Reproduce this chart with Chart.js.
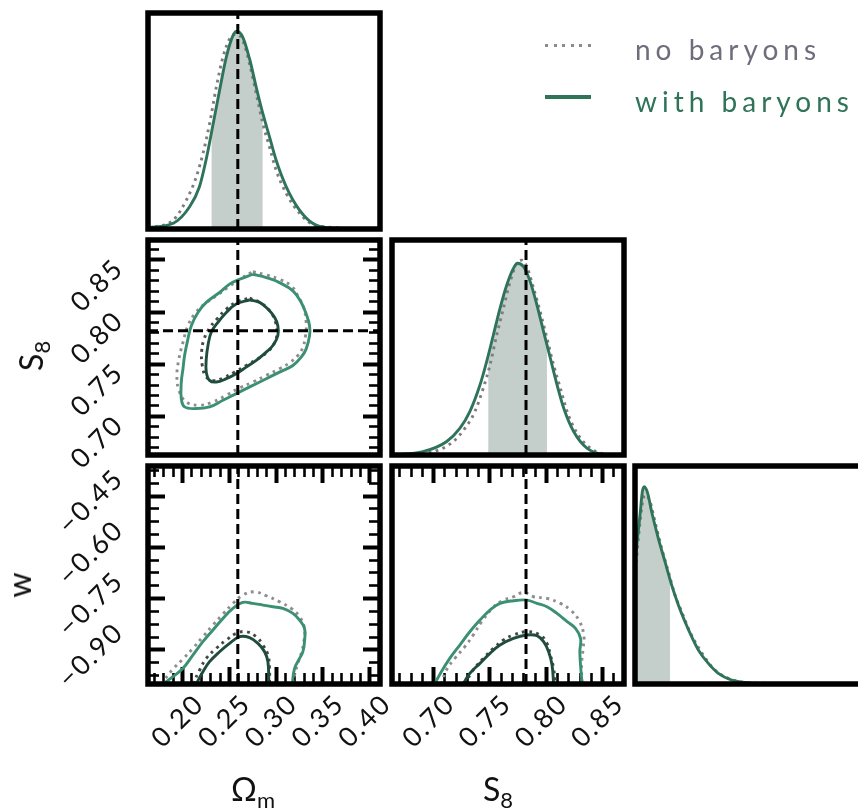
<!DOCTYPE html>
<html>
<head>
<meta charset="utf-8">
<title>Posterior corner plot: no baryons vs with baryons</title>
<script src="https://cdn.jsdelivr.net/npm/chart.js@4.4.1/dist/chart.umd.min.js"></script>
<style>
  html, body { margin: 0; padding: 0; background: #fff; overflow: hidden; }
  body { position: relative; width: 858px; height: 809px; font-family: Lato, "DejaVu Sans", sans-serif; font-weight: 400; }
  canvas { position: absolute; left: 0; top: 0; }
  .t { position: absolute; font-size: 32px; color: #111; line-height: 1; white-space: nowrap; transform: translate(-50%, -50%); }
  .t.rot { transform: translate(-50%, -50%) rotate(-90deg); }
  .t sub { font-size: 22px; vertical-align: -7px; line-height: 0; }
  .leg { position: absolute; font-size: 28px; letter-spacing: 5px; line-height: 1; white-space: nowrap; }
  .sw { position: absolute; }
</style>
</head>
<body>
<canvas id="pOm" width="880" height="809"></canvas>
<canvas id="pOmS8" width="880" height="809"></canvas>
<canvas id="pS8" width="880" height="809"></canvas>
<canvas id="pOmW" width="880" height="809"></canvas>
<canvas id="pS8W" width="880" height="809"></canvas>
<canvas id="pW" width="880" height="809"></canvas>

<div class="t rot" style="left:31px;top:356px">S<sub>8</sub></div>
<div class="t rot" style="left:19px;top:585px">w</div>
<div class="t" style="left:253px;top:789px">Ω<sub>m</sub></div>
<div class="t" style="left:498px;top:789px">S<sub>8</sub></div>

<div class="sw" style="left:545px;top:44px;width:46px;height:3px;background:repeating-linear-gradient(to right,#8a8a90 0 3px,transparent 3px 8.6px)"></div>
<div class="leg" style="left:635px;top:35px;color:#6f6c7b">no baryons</div>
<div class="sw" style="left:545px;top:95px;width:46px;height:4px;background:#2f7459"></div>
<div class="leg" style="left:635px;top:87px;color:#2f7459">with baryons</div>

<script>
// ---- parameter ranges, truth values and tick labels ----
const omRange = [0.163, 0.411];
const s8Range = [0.663, 0.869];
const wRange = [-1.0, -0.362];
const pdfRange = [0, 1.1];
const truthOm = 0.259;
const truthS8 = 0.782;
const omTicks = [0.20, 0.25, 0.30, 0.35, 0.40];
const s8Ticks = [0.70, 0.75, 0.80, 0.85];
const wTicks = [-0.90, -0.75, -0.60, -0.45];
const omMinorStep = 0.01, s8MinorStep = 0.01, wMinorStep = 0.0375;

// ---- 1D marginals (peak-normalised density) ----
const omWithX = [0.163, 0.190, 0.2075, 0.218, 0.225, 0.232, 0.2395, 0.2467, 0.2538, 0.258, 0.2644, 0.2716, 0.2787, 0.2858, 0.2929, 0.300, 0.3108, 0.325, 0.339, 0.3535, 0.410];
const omWithY = [0.007, 0.029, 0.113, 0.215, 0.350, 0.519, 0.706, 0.875, 0.985, 1.007, 0.976, 0.866, 0.722, 0.587, 0.469, 0.350, 0.215, 0.096, 0.029, 0.007, 0.0];
const omNoX = [0.163, 0.190, 0.204, 0.2146, 0.2217, 0.2288, 0.236, 0.2431, 0.2502, 0.2574, 0.2644, 0.2716, 0.2787, 0.2858, 0.2929, 0.300, 0.3108, 0.325, 0.3428, 0.410];
const omNoY = [0.005, 0.046, 0.147, 0.265, 0.384, 0.536, 0.722, 0.875, 0.968, 0.993, 0.959, 0.841, 0.689, 0.536, 0.418, 0.299, 0.181, 0.080, 0.017, 0.0];
const omBand = [0.231, 0.2855];

const s8WithX = [0.6637, 0.6904, 0.7113, 0.7232, 0.7321, 0.7411, 0.747, 0.753, 0.7589, 0.7649, 0.7708, 0.7744, 0.7798, 0.7857, 0.7917, 0.7976, 0.8036, 0.8096, 0.8155, 0.8244, 0.8363, 0.8512, 0.869];
const s8WithY = [0.0, 0.017, 0.068, 0.136, 0.222, 0.358, 0.477, 0.614, 0.750, 0.870, 0.955, 0.981, 0.963, 0.887, 0.767, 0.631, 0.495, 0.358, 0.239, 0.119, 0.034, 0.003, 0.0];
const s8NoX = [0.6637, 0.6994, 0.7172, 0.7277, 0.7366, 0.744, 0.750, 0.756, 0.7619, 0.7679, 0.7738, 0.7783, 0.7827, 0.7887, 0.7946, 0.8006, 0.8065, 0.8125, 0.8185, 0.8274, 0.8393, 0.8542, 0.869];
const s8NoY = [0.0, 0.017, 0.068, 0.136, 0.222, 0.341, 0.460, 0.614, 0.750, 0.887, 0.981, 0.997, 0.963, 0.853, 0.733, 0.597, 0.460, 0.341, 0.222, 0.111, 0.034, 0.003, 0.0];
const s8Band = [0.7485, 0.8006];

const wWithX = [-1.0, -0.9862, -0.9798, -0.9743, -0.9651, -0.9542, -0.9359, -0.9175, -0.8992, -0.8808, -0.8625, -0.8442, -0.8258, -0.7983, -0.7708, -0.7342, -0.6975, -0.6608, -0.362];
const wWithY = [0.62, 0.853, 0.970, 0.995, 0.962, 0.869, 0.735, 0.617, 0.499, 0.399, 0.314, 0.239, 0.172, 0.104, 0.054, 0.020, 0.008, 0.003, 0.0];
const wNoX = [-1.0, -0.9862, -0.9771, -0.9707, -0.9587, -0.945, -0.9267, -0.9083, -0.89, -0.8717, -0.8533, -0.835, -0.8121, -0.7892, -0.7617, -0.725, -0.6792, -0.362];
const wNoY = [0.54, 0.819, 0.937, 0.954, 0.920, 0.819, 0.685, 0.567, 0.449, 0.365, 0.281, 0.213, 0.146, 0.087, 0.045, 0.017, 0.005, 0.0];
const wBand = [-1.0, -0.9037];

// ---- 2D credible contours: [x, y] ----
const omS8OuterWith = [[0.2751,0.8362],[0.2894,0.8330],[0.3036,0.8282],[0.3179,0.8203],[0.3268,0.8092],[0.3321,0.7981],[0.3357,0.7869],[0.3357,0.7774],[0.3321,0.7647],[0.3268,0.7567],[0.3179,0.7488],[0.3036,0.7424],[0.2894,0.7361],[0.2787,0.7313],[0.2680,0.7266],[0.2573,0.7218],[0.2431,0.7154],[0.2288,0.7091],[0.2146,0.7075],[0.2021,0.7091],[0.1986,0.7170],[0.1986,0.7329],[0.2004,0.7456],[0.2021,0.7583],[0.2057,0.7742],[0.2093,0.7869],[0.2164,0.7996],[0.2253,0.8092],[0.2395,0.8187],[0.2502,0.8267],[0.2609,0.8314],[0.2751,0.8362]];
const omS8OuterNo = [[0.2751,0.8387],[0.2894,0.8355],[0.3036,0.8314],[0.3161,0.8251],[0.3232,0.8155],[0.3293,0.8044],[0.3321,0.7901],[0.3314,0.7774],[0.3286,0.7663],[0.3232,0.7583],[0.3143,0.7513],[0.3036,0.7456],[0.2894,0.7393],[0.2751,0.7329],[0.2609,0.7272],[0.2467,0.7202],[0.2324,0.7138],[0.2182,0.7107],[0.2039,0.7138],[0.1961,0.7250],[0.1939,0.7393],[0.1961,0.7552],[0.2004,0.7710],[0.2057,0.7869],[0.2128,0.7981],[0.2235,0.8076],[0.2360,0.8155],[0.2484,0.8235],[0.2609,0.8314],[0.2751,0.8387]];
const omS8InnerWith = [[0.2716,0.8117],[0.2823,0.8092],[0.2912,0.8028],[0.2983,0.7949],[0.3018,0.7869],[0.3018,0.7774],[0.2965,0.7679],[0.2894,0.7615],[0.2787,0.7536],[0.2680,0.7472],[0.2573,0.7409],[0.2467,0.7361],[0.2360,0.7329],[0.2288,0.7345],[0.2253,0.7424],[0.2253,0.7552],[0.2271,0.7679],[0.2306,0.7806],[0.2377,0.7901],[0.2467,0.7996],[0.2573,0.8076],[0.2716,0.8117]];
const omS8InnerNo = [[0.2716,0.8133],[0.2840,0.8085],[0.2937,0.8003],[0.2994,0.7901],[0.3008,0.7790],[0.2983,0.7704],[0.2912,0.7621],[0.2805,0.7552],[0.2680,0.7488],[0.2556,0.7424],[0.2431,0.7367],[0.2342,0.7342],[0.2253,0.7377],[0.2210,0.7488],[0.2203,0.7615],[0.2224,0.7726],[0.2281,0.7838],[0.2367,0.7933],[0.2467,0.8028],[0.2580,0.8098],[0.2716,0.8133]];

const omWOuterWith = [[0.1790,-1.0],[0.1897,-0.9786],[0.2004,-0.9542],[0.2110,-0.9152],[0.2217,-0.8762],[0.2324,-0.8421],[0.2431,-0.8080],[0.2538,-0.7787],[0.2644,-0.7612],[0.2751,-0.7641],[0.2858,-0.7690],[0.2965,-0.7739],[0.3072,-0.7787],[0.3179,-0.7934],[0.3250,-0.8129],[0.3303,-0.8372],[0.3303,-0.8762],[0.3286,-0.9055],[0.3250,-0.9249],[0.3197,-0.9542],[0.3172,-1.0]];
const omWOuterNo = [[0.1772,-1.0],[0.1897,-0.9561],[0.2004,-0.9269],[0.2110,-0.8957],[0.2217,-0.8616],[0.2324,-0.8275],[0.2431,-0.7953],[0.2538,-0.7641],[0.2644,-0.7398],[0.2769,-0.7300],[0.2894,-0.7417],[0.3036,-0.7593],[0.3161,-0.7787],[0.3250,-0.8031],[0.3303,-0.8372],[0.3296,-0.8762],[0.3268,-0.9103],[0.3232,-0.9396],[0.3197,-0.9737],[0.3179,-1.0]];
const omWInnerWith = [[0.2146,-1.0],[0.2217,-0.9639],[0.2288,-0.9347],[0.2395,-0.9055],[0.2502,-0.8811],[0.2609,-0.8616],[0.2716,-0.8645],[0.2805,-0.8811],[0.2876,-0.9055],[0.2912,-0.9347],[0.2922,-1.0]];
const omWInnerNo = [[0.2110,-1.0],[0.2182,-0.9591],[0.2253,-0.9249],[0.2360,-0.8957],[0.2467,-0.8713],[0.2573,-0.8519],[0.2680,-0.8470],[0.2787,-0.8616],[0.2858,-0.8860],[0.2912,-0.9152],[0.2929,-0.9542],[0.2929,-1.0]];

const s8WOuterWith = [[0.7009,-1.0],[0.7068,-0.9639],[0.7143,-0.9249],[0.7232,-0.8860],[0.7321,-0.8470],[0.7411,-0.8129],[0.7500,-0.7836],[0.7589,-0.7641],[0.7708,-0.7563],[0.7827,-0.7544],[0.7917,-0.7641],[0.8006,-0.7739],[0.8095,-0.7934],[0.8185,-0.8177],[0.8259,-0.8372],[0.8304,-0.8665],[0.8298,-0.9055],[0.8304,-0.9444],[0.8318,-1.0]];
const s8WOuterNo = [[0.7068,-1.0],[0.7113,-0.9591],[0.7188,-0.9249],[0.7277,-0.8908],[0.7351,-0.8567],[0.7426,-0.8177],[0.7515,-0.7807],[0.7604,-0.7573],[0.7708,-0.7446],[0.7798,-0.7320],[0.7887,-0.7446],[0.8006,-0.7495],[0.8125,-0.7641],[0.8214,-0.7836],[0.8289,-0.8129],[0.8333,-0.8567],[0.8327,-0.8957],[0.8313,-0.9444],[0.8318,-1.0]];
const s8WInnerWith = [[0.7262,-1.0],[0.7321,-0.9688],[0.7411,-0.9396],[0.7500,-0.9103],[0.7589,-0.8860],[0.7708,-0.8665],[0.7827,-0.8567],[0.7917,-0.8587],[0.7976,-0.8762],[0.8021,-0.9055],[0.8051,-0.9444],[0.8065,-1.0]];
const s8WInnerNo = [[0.7277,-1.0],[0.7351,-0.9591],[0.7440,-0.9249],[0.7530,-0.8957],[0.7619,-0.8713],[0.7708,-0.8567],[0.7827,-0.8470],[0.7946,-0.8567],[0.8006,-0.8811],[0.8036,-0.9152],[0.8065,-0.9542],[0.8080,-1.0]];

// ---- styling ----
const COL = {
  pdfWith: '#2f7459', pdfNo: '#7c7c84',
  outerWith: '#3a9070', innerWith: '#1f4d3b',
  outerNo: '#8c8c94', innerNo: '#45454d',
  band: '#c4cfcb'
};
const TICK_FONT = { family: 'Lato, "DejaVu Sans", sans-serif', size: 27, weight: '400' };
const MAJOR_LEN = 17, MINOR_LEN = 11, MAJOR_W = 4, MINOR_W = 2.6;
const LINE_W = 2.9;
const CW = 880, CH = 809;
const COLS = [[148, 380], [392, 624], [635, 867]];
const ROWS = [[13, 229], [240, 455], [466, 684]];
const SIDE_L = 120, SIDE_B = 100;

// ---- helpers ----
const zip = (xs, ys) => xs.map((x, i) => ({ x, y: ys[i] }));
const pts = a => a.map(([x, y]) => ({ x, y }));
const fmt = v => (v < 0 ? '\u2212' : '') + Math.abs(v).toFixed(2);
function minorValues(range, step) {
  const out = [];
  const first = Math.ceil(range[0] / step - 1e-6) * step;
  for (let v = first; v <= range[1] + 1e-9; v += step) out.push(+v.toFixed(5));
  return out;
}
const omMinor = minorValues(omRange, omMinorStep);
const s8Minor = minorValues(s8Range, s8MinorStep);
const wMinor = minorValues([-0.975, wRange[1]], wMinorStep);

function line(data, color, dotted, smooth) {
  const d = { data, showLine: true, borderColor: color, borderWidth: LINE_W, pointRadius: 0, fill: false,
    borderDash: dotted ? [2.8, 4.4] : [], borderCapStyle: 'butt' };
  if (smooth === 'monotone') d.cubicInterpolationMode = 'monotone'; else d.tension = 0.4;
  return d;
}
function truth(data) {
  return { data, showLine: true, borderColor: '#000', borderWidth: 3, borderDash: [10, 5], pointRadius: 0, tension: 0 };
}
function hidden(pos, range) {
  return { type: 'linear', position: pos, min: range[0], max: range[1], bounds: 'data', display: false };
}
function ticked(o) {
  const horiz = o.pos === 'top' || o.pos === 'bottom';
  const s = {
    type: 'linear', position: o.pos, min: o.range[0], max: o.range[1], bounds: 'data', weight: o.weight || 0,
    afterBuildTicks: sc => { sc.ticks = o.values.map(v => ({ value: v })); },
    afterFit: sc => {
      if (horiz) sc.height = o.size || 0; else sc.width = o.size || 0;
      sc.paddingLeft = sc.paddingRight = sc.paddingTop = sc.paddingBottom = 0;
    },
    border: { display: false },
    grid: { drawOnChartArea: false, drawTicks: true, tickLength: -(o.major ? MAJOR_LEN : MINOR_LEN),
      tickWidth: o.major ? MAJOR_W : MINOR_W, tickColor: '#000' },
    ticks: { display: !!o.labels }
  };
  if (o.labels) Object.assign(s.ticks, { autoSkip: false, minRotation: 45, maxRotation: 45, padding: o.pad,
    labelOffset: o.offset || 0, color: '#111', font: TICK_FONT, callback: v => fmt(v) });
  return s;
}
function yAxes(range, major, minor, labelOpts) {
  return {
    y: ticked(Object.assign({ pos: 'left', range, values: major, major: true, weight: 2 }, labelOpts || {})),
    yMinorL: ticked({ pos: 'left', range, values: minor, weight: 1 }),
    yMajorR: ticked({ pos: 'right', range, values: major, major: true }),
    yMinorR: ticked({ pos: 'right', range, values: minor })
  };
}
function xAxes(range, major, minor, labelOpts) {
  return {
    x: ticked(Object.assign({ pos: 'bottom', range, values: major, major: true, weight: 2 }, labelOpts || {})),
    xMinorB: ticked({ pos: 'bottom', range, values: minor, weight: 1 }),
    xMajorT: ticked({ pos: 'top', range, values: major, major: true }),
    xMinorT: ticked({ pos: 'top', range, values: minor })
  };
}

// thick black frame around each panel, drawn above the curves
const framePlugin = {
  id: 'frame',
  afterDatasetsDraw(chart) {
    const a = chart.chartArea, ctx = chart.ctx;
    ctx.save();
    ctx.lineWidth = 5.5;
    ctx.strokeStyle = '#000';
    ctx.strokeRect(a.left, a.top, a.right - a.left, a.bottom - a.top);
    ctx.restore();
  }
};
// shaded credible interval under a marginal curve
const bandPlugin = {
  id: 'band',
  beforeDatasetsDraw(chart, args, opts) {
    if (!opts || !opts.range) return;
    const meta = chart.getDatasetMeta(opts.datasetIndex);
    const el = meta.dataset, a = chart.chartArea, ctx = chart.ctx;
    const xs = chart.scales.x, ys = chart.scales.y;
    const x0 = xs.getPixelForValue(opts.range[0]), x1 = xs.getPixelForValue(opts.range[1]);
    const yb = ys.getPixelForValue(0);
    el.updateControlPoints(a, 'x');
    ctx.save();
    ctx.beginPath();
    ctx.rect(x0, a.top, x1 - x0, a.bottom - a.top);
    ctx.clip();
    ctx.beginPath();
    el.path(ctx);
    const p = meta.data;
    ctx.lineTo(p[p.length - 1].x, yb);
    ctx.lineTo(p[0].x, yb);
    ctx.closePath();
    ctx.fillStyle = opts.color;
    ctx.fill();
    ctx.restore();
  }
};
const spacingPlugin = { id: 'spacing', beforeDraw(chart) { chart.ctx.letterSpacing = '2px'; } };

function panel(id, col, row, scales, datasets, opts) {
  opts = opts || {};
  const [l, r] = COLS[col], [t, b] = ROWS[row];
  const plugins = [framePlugin, spacingPlugin];
  if (opts.band) plugins.push(bandPlugin);
  return new Chart(document.getElementById(id), {
    type: 'scatter',
    data: { datasets },
    options: {
      responsive: false, animation: false, events: [], devicePixelRatio: 1,
      layout: { autoPadding: false, padding: {
        left: l - (opts.leftLabels ? SIDE_L : 0), top: t,
        right: CW - r, bottom: CH - b - (opts.bottomLabels ? SIDE_B : 0) } },
      plugins: { legend: { display: false }, tooltip: { enabled: false }, band: opts.band || false },
      scales
    },
    plugins
  });
}

const LBL_Y = { labels: true, size: SIDE_L, pad: 46 };
const LBL_X = { labels: true, size: SIDE_B, pad: 21, offset: 17 };

// Omega_m marginal
panel('pOm', 0, 0, { x: hidden('bottom', omRange), y: hidden('left', pdfRange) }, [
  truth([{ x: truthOm, y: 0 }, { x: truthOm, y: 1.1 }]),
  line(zip(omWithX, omWithY), COL.pdfWith, false, 'monotone'),
  line(zip(omNoX, omNoY), COL.pdfNo, true, 'monotone')
], { band: { range: omBand, datasetIndex: 1, color: COL.band } });

// Omega_m vs S8
panel('pOmS8', 0, 1, Object.assign({ x: hidden('bottom', omRange) }, yAxes(s8Range, s8Ticks, s8Minor, Object.assign({}, LBL_Y, { offset: 4 }))), [
  truth([{ x: truthOm, y: s8Range[0] }, { x: truthOm, y: s8Range[1] }]),
  truth([{ x: omRange[0], y: truthS8 }, { x: omRange[1], y: truthS8 }]),
  line(pts(omS8InnerWith), COL.innerWith, false),
  line(pts(omS8OuterWith), COL.outerWith, false),
  line(pts(omS8InnerNo), COL.innerNo, true),
  line(pts(omS8OuterNo), COL.outerNo, true)
], { leftLabels: true });

// S8 marginal
panel('pS8', 1, 1, { x: hidden('bottom', s8Range), y: hidden('left', pdfRange) }, [
  truth([{ x: truthS8, y: 0 }, { x: truthS8, y: 1.1 }]),
  line(zip(s8WithX, s8WithY), COL.pdfWith, false, 'monotone'),
  line(zip(s8NoX, s8NoY), COL.pdfNo, true, 'monotone')
], { band: { range: s8Band, datasetIndex: 1, color: COL.band } });

// Omega_m vs w
panel('pOmW', 0, 2, Object.assign(
  xAxes(omRange, omTicks, omMinor, LBL_X),
  yAxes(wRange, wTicks, wMinor, Object.assign({}, LBL_Y, { offset: -22 }))), [
  truth([{ x: truthOm, y: wRange[0] }, { x: truthOm, y: wRange[1] }]),
  line(pts(omWInnerWith), COL.innerWith, false),
  line(pts(omWOuterWith), COL.outerWith, false),
  line(pts(omWInnerNo), COL.innerNo, true),
  line(pts(omWOuterNo), COL.outerNo, true)
], { leftLabels: true, bottomLabels: true });

// S8 vs w
panel('pS8W', 1, 2, Object.assign(xAxes(s8Range, s8Ticks, s8Minor, LBL_X), { y: hidden('left', wRange) }), [
  truth([{ x: truthS8, y: wRange[0] }, { x: truthS8, y: wRange[1] }]),
  line(pts(s8WInnerWith), COL.innerWith, false),
  line(pts(s8WOuterWith), COL.outerWith, false),
  line(pts(s8WInnerNo), COL.innerNo, true),
  line(pts(s8WOuterNo), COL.outerNo, true)
], { bottomLabels: true });

// w marginal
panel('pW', 2, 2, { x: hidden('bottom', wRange), y: hidden('left', pdfRange) }, [
  line(zip(wWithX, wWithY), COL.pdfWith, false, 'monotone'),
  line(zip(wNoX, wNoY), COL.pdfNo, true, 'monotone')
], { band: { range: wBand, datasetIndex: 0, color: COL.band } });
</script>
</body>
</html>
